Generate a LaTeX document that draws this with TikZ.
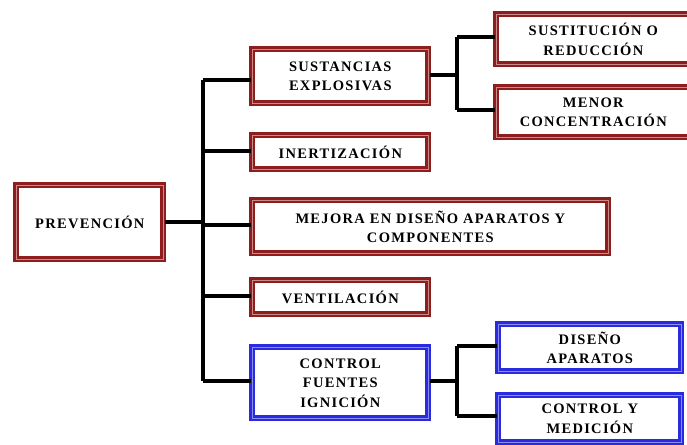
\documentclass[tikz,border=0pt]{standalone}
\usepackage{fontspec}
\setmainfont{Liberation Serif}
\usetikzlibrary{positioning}
\definecolor{boxred}{HTML}{8E1E1E}
\definecolor{boxredlight}{HTML}{C98A8A}
\definecolor{boxblue}{HTML}{2A2ADE}
\definecolor{boxbluelight}{HTML}{8C8CEE}
\tikzset{
  x=1pt, y=-1pt,
  box/.style={line width=2.6pt, fill=white, align=center,
    font=\bfseries\fontsize{14.5}{19.5}\selectfont\addfontfeature{LetterSpace=9},
    inner sep=0pt},
  redbox/.style={box, draw=boxred, double=boxredlight, double distance=0.8pt},
  bluebox/.style={box, draw=boxblue, double=boxbluelight, double distance=0.8pt},
  link/.style={line width=3.2pt, black},
}
\begin{document}
\begin{tikzpicture}
\useasboundingbox (0,0) rectangle (687,444);
% boxes: top-left corner and size in pixels
\newcommand{\boxat}[6]{%
  \node[#1, minimum width=#4, minimum height=#5, anchor=north west] (#2) at #3 {#6};}
\boxat{redbox}{prev}{(15,184)}{147pt}{74pt}{PREVENCIÓN}
\boxat{redbox}{sust}{(251,48)}{176pt}{54pt}{SUSTANCIAS\\EXPLOSIVAS}
\boxat{redbox}{inert}{(251,134)}{176pt}{34pt}{INERTIZACIÓN}
\boxat{redbox}{mejora}{(251,199)}{356pt}{53pt}{MEJORA EN DISEÑO APARATOS Y\\COMPONENTES}
\boxat{redbox}{vent}{(251,279)}{176pt}{34pt}{VENTILACIÓN}
\boxat{bluebox}{ctrl}{(251,346)}{176pt}{71pt}{CONTROL\\FUENTES\\IGNICIÓN}
\boxat{redbox}{subs}{(495,13)}{194pt}{50pt}{SUSTITUCIÓN O\\REDUCCIÓN}
\boxat{redbox}{menor}{(495,86)}{194pt}{50pt}{MENOR\\CONCENTRACIÓN}
\boxat{bluebox}{dis}{(497,323)}{183pt}{47pt}{DISEÑO\\APARATOS}
\boxat{bluebox}{med}{(497,394)}{183pt}{47pt}{CONTROL Y\\MEDICIÓN}

% main trunk
\coordinate (t0) at (203,80);
\coordinate (t1) at (203,381);
\coordinate (tp) at (203,222);
\draw[link] (prev.east |- tp) -- (tp);
\draw[link] (t0) -- (t1);
\draw[link] (t0) -- (sust.west |- t0);
\draw[link] (203,151) -- (inert.west |- 0,151);
\draw[link] (203,225) -- (mejora.west |- 0,225);
\draw[link] (203,296) -- (vent.west |- 0,296);
\draw[link] (t1) -- (ctrl.west |- t1);

% upper branch
\coordinate (u0) at (457,37);
\coordinate (u1) at (457,110);
\draw[link] (sust.east |- 0,75) -- (457,75);
\draw[link] (u0) -- (u1);
\draw[link] (u0) -- (subs.west |- u0);
\draw[link] (u1) -- (menor.west |- u1);

% lower branch
\coordinate (l0) at (457,346);
\coordinate (l1) at (457,416);
\draw[link] (ctrl.east |- 0,381) -- (457,381);
\draw[link] (l0) -- (l1);
\draw[link] (l0) -- (dis.west |- l0);
\draw[link] (l1) -- (med.west |- l1);
\end{tikzpicture}
\end{document}
